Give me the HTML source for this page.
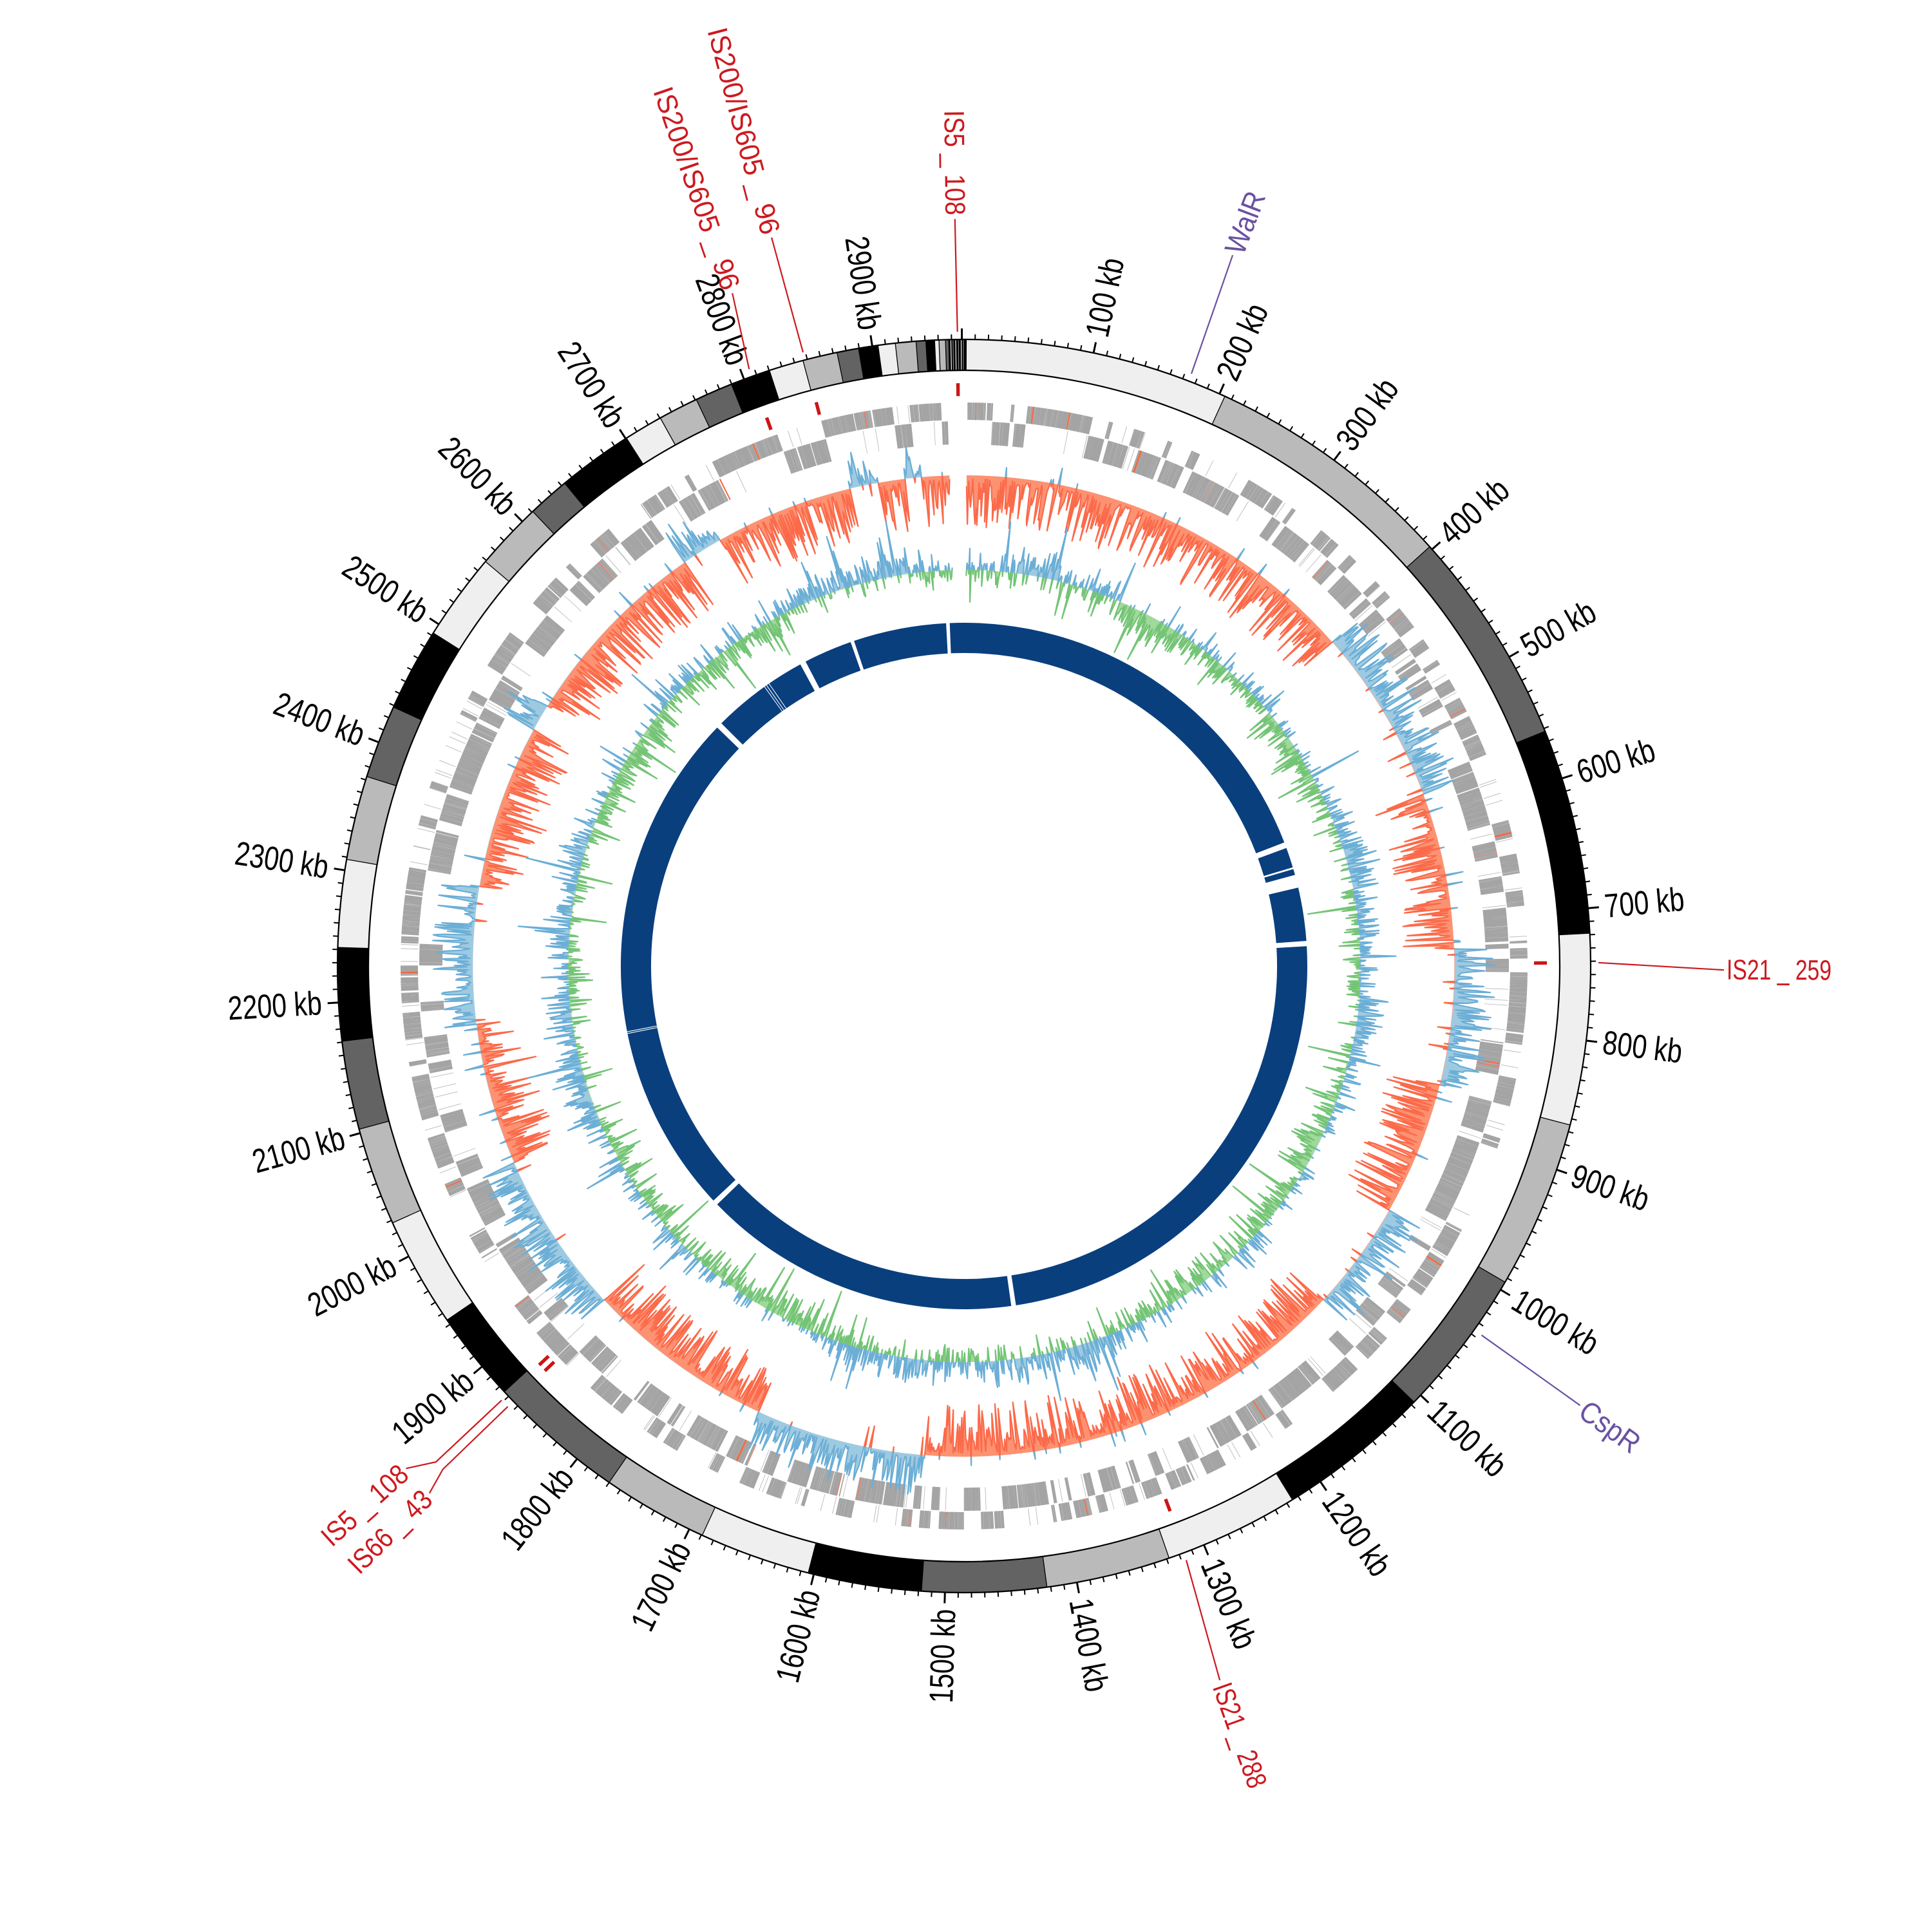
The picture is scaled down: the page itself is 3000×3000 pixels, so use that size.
<!DOCTYPE html>
<html><head><meta charset="utf-8">
<style>html,body{margin:0;padding:0;background:#fff}svg{display:block}
text{font-family:"Liberation Sans Narrow","Liberation Sans",sans-serif}</style>
</head><body>
<svg id="s" width="3000" height="3000" viewBox="0 0 3000 3000" xmlns="http://www.w3.org/2000/svg">
<defs>
<clipPath id="skO"><path id="skOp" clip-rule="evenodd"/></clipPath>
<clipPath id="skI"><path id="skIp"/></clipPath>
<clipPath id="gcO"><path id="gcOp" clip-rule="evenodd"/></clipPath>
<clipPath id="gcI"><path id="gcIp"/></clipPath>
</defs>
<rect width="3000" height="3000" fill="#fff"/>
<g id="g"></g>
</svg>
<script>
const CX=1497,CY=1500,RO=973,RI=925,K=0.1213,OFF=-0.2;
const kb2a=k=>k*K+OFF;
function xy(r,a){const t=a*Math.PI/180;return [CX+r*Math.sin(t),CY-r*Math.cos(t)];}
function P(r,a){const p=xy(r,a);return p[0].toFixed(1)+','+p[1].toFixed(1);}
function sec(r0,r1,a0,a1){const l=(a1-a0)>180?1:0;
return 'M'+P(r1,a0)+'A'+r1+','+r1+' 0 '+l+' 1 '+P(r1,a1)+'L'+P(r0,a1)+'A'+r0+','+r0+' 0 '+l+' 0 '+P(r0,a0)+'Z';}
function circ(r){return 'M'+(CX-r)+','+CY+'a'+r+','+r+' 0 1 0 '+(2*r)+',0a'+r+','+r+' 0 1 0 '+(-2*r)+',0Z';}
let seed=12345;function rnd(){seed|=0;seed=seed+0x6D2B79F5|0;let t=Math.imul(seed^seed>>>15,1|seed);t=t+Math.imul(t^t>>>7,61|t)^t;return((t^t>>>14)>>>0)/4294967296;}
function gauss(){let u=rnd()||1e-9,v=rnd();return Math.sqrt(-2*Math.log(u))*Math.cos(2*Math.PI*v);}
let h='';
const L='#efefef',G='#bababa',D='#636363',B='#000';
const bands=[[0.2,24.6,L],[24.6,48,G],[48,68,D],[68,87,B],[87,104.7,L],[104.7,120.3,G],[120.3,134.1,D],[134.1,148.4,B],[148.4,160.9,L],[160.9,172.4,G],[172.4,183.9,D],[183.9,194.4,B],[194.4,204.7,L],[204.7,214.5,G],[214.5,227.2,D],[227.2,235.6,B],[235.6,245.8,L],[245.8,254.9,G],[254.9,263.1,D],[263.1,271.7,B],[271.7,279.8,L],[279.8,287.6,G],[287.6,294.4,D],[294.4,302.1,B],[302.1,310.2,L],[310.2,316.5,G],[316.5,320.4,D],[320.4,327.4,B],[327.4,331,L],[331,334.7,G],[334.7,338.2,D],[338.2,341.9,B],[341.9,345.1,L],[345.1,348.3,G],[348.3,350.3,D],[350.3,352.1,B],[352.1,353.7,L],[353.7,355.6,G],[355.6,356.5,D],[356.5,357.3,B],[357.3,357.7,L],[357.7,358.3,G],[358.3,358.6,D],[358.6,360.2,B]];
bands.forEach(b=>{h+='<path d="'+sec(RI,RO,b[0],b[1])+'" fill="'+b[2]+'"/>';});
[358.75,358.95,359.2,359.45,359.7,359.9].forEach((a,i)=>{h+='<path d="'+sec(RI,RO,a,a+0.07)+'" fill="'+(i%2?'#888':'#fff')+'"/>';});
bands.forEach(b=>{h+='<line x1="'+xy(RI,b[0])[0].toFixed(1)+'" y1="'+xy(RI,b[0])[1].toFixed(1)+'" x2="'+xy(RO,b[0])[0].toFixed(1)+'" y2="'+xy(RO,b[0])[1].toFixed(1)+'" stroke="#000" stroke-width="1.3"/>';});
h+='<path d="'+circ(RO)+circ(RI)+'" fill="none" stroke="#000" stroke-width="2.2"/>';
const tl=["100 kb","200 kb","300 kb","400 kb","500 kb","600 kb","700 kb","800 kb","900 kb","1000 kb","1100 kb","1200 kb","1300 kb","1400 kb","1500 kb","1600 kb","1700 kb","1800 kb","1900 kb","2000 kb","2100 kb","2200 kb","2300 kb","2400 kb","2500 kb","2600 kb","2700 kb","2800 kb","2900 kb"];
let td='',tdm='';
for(let k=0;k<=2960;k+=10){const a=kb2a(k);if(k%100==0){td+='M'+P(RO,a)+'L'+P(RO+17,a);}else{tdm+='M'+P(RO,a)+'L'+P(RO+8,a);}}
h+='<path d="'+tdm+'" stroke="#000" stroke-width="2"/><path d="'+td+'" stroke="#000" stroke-width="3"/>';
function lab(t,a,r,fs,col,len){const p=xy(r,a);let aa=((a%360)+360)%360;let rot,anc;
if(aa<180){rot=aa-90;anc='start';}else{rot=aa+90;anc='end';}
return '<text x="'+p[0].toFixed(1)+'" y="'+p[1].toFixed(1)+'" transform="rotate('+rot.toFixed(2)+' '+p[0].toFixed(1)+' '+p[1].toFixed(1)+')" text-anchor="'+anc+'" dominant-baseline="central" font-size="'+fs+'" fill="'+col+'" textLength="'+len+'" lengthAdjust="spacingAndGlyphs">'+t+'</text>';}
tl.forEach((t,i)=>{const k=(i+1)*100;h+=lab(t,kb2a(k),RO+26,52,'#000',k>=1000?146:124);});
let md='';[359.4,345.3,340.2,89.7,159.3,226.8,226.0].forEach(a=>{md+=sec(885,905,a-0.17,a+0.17);});
h+='<path d="'+md+'" fill="#cc1515"/>';
const RED='#cc1a1f',PUR='#6a51a3';
function line(pts,col){return '<polyline points="'+pts.map(q=>P(q[0],q[1])).join(' ')+'" fill="none" stroke="'+col+'" stroke-width="2.2"/>';}
h+=line([[RO+12,359.4],[1160,359.3]],RED)+lab('IS5 _ 108',359.3,1166,44,RED,163);
h+=line([[RO+12,345.3],[1170,345.2]],RED)+lab('IS200/IS605 _ 96',345.2,1176,44,RED,330);
h+=line([[RO+12,340.2],[1105,341]],RED)+lab('IS200/IS605 _ 96',341,1112,44,RED,330);
h+=line([[RO+12,21.0],[1180,20.7]],PUR)+lab('WalR',20.7,1184,46,PUR,100);
h+=line([[RO+14,125.5],[1175,125.5]],PUR)+lab('CspR',125.5,1180,46,PUR,104);
h+=line([[RO+12,89.7],[1180,90.3]],RED)+lab('IS21 _ 259',90.3,1184,44,RED,163);
h+=line([[RO+12,159.5],[1178,160.3]],RED)+lab('IS21 _ 288',160.3,1184,44,RED,170);
h+=line([[RO+12,226.8],[1125,226.8],[1166,228.0]],RED)+lab('IS5 _ 108',228.0,1170,44,RED,164);
h+=line([[RO+12,226.0],[1125,226.0],[1166,225.4]],RED)+lab('IS66 _ 43',225.4,1170,44,RED,163);
// genes
let gd='',gr='',gl='';
let a=0.35;
while(a<358.3){const strand=rnd()<0.5?0:1;const runEnd=a+(1+rnd()*14)*K;
 while(a<runEnd&&a<358.3){const len=(0.3+rnd()*1.3)*K;const r0=strand?848:810,r1=strand?875:846;
  const e=Math.min(a+len,358.3);const p=sec(r0,r1,a,e);if(rnd()<0.01)gr+=p;else gd+=p;
  if(rnd()<0.05)gl+=sec(strand?810:848,strand?846:875,a,a+0.06);
  a+=len+(rnd()<0.25?0.08*K:0.01*K);if(rnd()<0.015)a+=(0.3+rnd()*1.2)*K;}
 if(rnd()<0.06)a+=(0.3+rnd()*1.5)*K;}
h+='<path d="'+gd+'" fill="#a4a4a4"/><path d="'+gl+'" fill="#b8b8b8"/><path d="'+gr+'" fill="#f4663f"/>';
function curve(base,fn,N){let pts=[];const a0=0.3,a1=358.3;for(let i=0;i<=N;i++){const aa=a0+(a1-a0)*i/N;pts.push(P(base+fn(aa),aa));}
 const ln='M'+pts.join('L');const area='M'+P(base,a0)+'L'+pts.join('L')+'L'+P(base,a1)+'A'+base+','+base+' 0 1 0 '+P(base,a0)+'Z';return [ln,area];}
const skSegs=[[0,48.6,-1],[48.6,69.5,1],[69.5,88,-1],[88,104,1],[104,119.8,-1],[119.8,132.9,1],[132.9,184.6,-1],[184.6,204.8,1],[204.8,227.1,-1],[227.1,246.4,1],[246.4,263.2,-1],[263.2,279.4,1],[279.4,298.7,-1],[298.7,302,1],[302,325.3,-1],[325.3,330.2,1],[330.2,346.5,-1],[346.5,350,1],[350,353,-1],[353,355,1],[355,360,-1]];
function skSign(aa){for(const s of skSegs)if(aa>=s[0]&&aa<s[1])return s[2];return -1;}
const SKB=762;
const sk=curve(SKB,aa=>{let s=skSign(aa);if(rnd()<0.04)return -s*(5+35*rnd()*rnd());let v=5+70*Math.pow(rnd(),2.2);return s<0?-v*1.1:v*0.85;},2900);
const GCB=615;
const ph=[rnd()*6,rnd()*6,rnd()*6];
const gc=curve(GCB,aa=>{let b=9*Math.sin(aa*0.07+ph[0])+6*Math.sin(aa*0.21+ph[1])+4*Math.sin(aa*0.5+ph[2]);let v=b+gauss()*15;if(rnd()<0.07)v*=2.4;return Math.max(-75,Math.min(85,v));},2900);
document.getElementById('skOp').setAttribute('d','M0,0H3000V3000H0Z'+circ(SKB));
document.getElementById('skIp').setAttribute('d',circ(SKB));
document.getElementById('gcOp').setAttribute('d','M0,0H3000V3000H0Z'+circ(GCB));
document.getElementById('gcIp').setAttribute('d',circ(GCB));
h+='<g clip-path="url(#skO)"><path d="'+sk[1]+'" fill="#9ecae1"/><path d="'+sk[0]+'" fill="none" stroke="#6baed6" stroke-width="2.2" stroke-linejoin="round"/></g>';
h+='<g clip-path="url(#skI)"><path d="'+sk[1]+'" fill="#fc9272"/><path d="'+sk[0]+'" fill="none" stroke="#fb6a4a" stroke-width="2.2" stroke-linejoin="round"/></g>';
h+='<g clip-path="url(#gcO)"><path d="'+gc[1]+'" fill="#9ecae1"/><path d="'+gc[0]+'" fill="none" stroke="#6baed6" stroke-width="2.2" stroke-linejoin="round"/></g>';
h+='<g clip-path="url(#gcI)"><path d="'+gc[1]+'" fill="#a1d99b"/><path d="'+gc[0]+'" fill="none" stroke="#74c476" stroke-width="2.2" stroke-linejoin="round"/></g>';
const gaps=[[68.9,69.9],[73.3,73.6],[74.6,76.8],[85.8,86.7],[171.3,172.1],[226.0,226.9],[314.0,315.0],[331.5,332.5],[340.7,341.3],[357.0,357.6]];
let rd='';for(let i=0;i<gaps.length;i++){const s=gaps[i][1];const e=i+1<gaps.length?gaps[i+1][0]:gaps[0][0]+360;rd+=sec(486,533,s,e);}
h+='<path d="'+rd+'" fill="#0a3f7e"/>';
let wd='';[324.4,324.8,325.3,258.6,258.9].forEach(aa=>{wd+=sec(486,533,aa,aa+0.12);});
h+='<path d="'+wd+'" fill="#fff"/>';
document.getElementById('g').innerHTML=h;
</script>
</body></html>
